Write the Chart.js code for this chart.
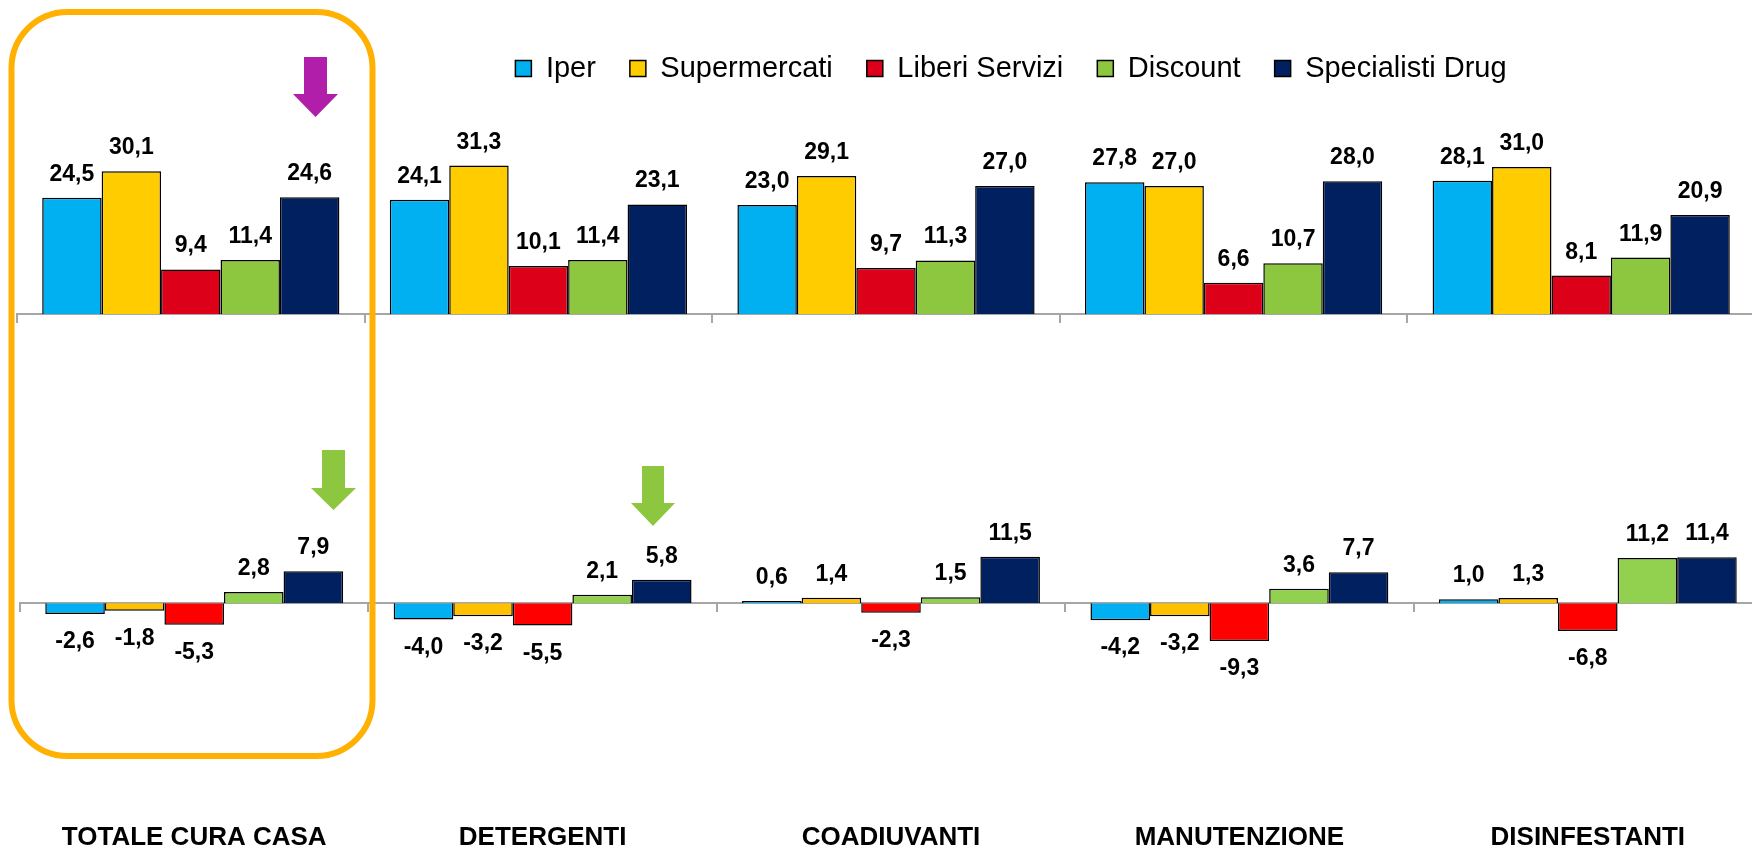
<!DOCTYPE html>
<html>
<head>
<meta charset="utf-8">
<script src="https://cdn.jsdelivr.net/npm/chart.js@4.4.1/dist/chart.umd.min.js"></script>
<style>
  html, body { margin: 0; padding: 0; background: #fff; }
  #wrap { position: relative; width: 1752px; height: 850px; overflow: hidden; background: #fff; }
  #wrap canvas { position: absolute; left: 0; }
  #topChart { top: 0; }
  #botChart { top: 330px; }
  #marks { position: absolute; left: 0; top: 0; pointer-events: none; }
</style>
</head>
<body>
<div id="wrap">
  <canvas id="topChart" width="1755" height="330"></canvas>
  <canvas id="botChart" width="1762" height="520"></canvas>
  <svg id="marks" width="1752" height="850">
    <rect x="11.5" y="12" width="361" height="744" rx="56" ry="56" fill="none" stroke="#FFB000" stroke-width="6"/>
    <polygon fill="#B11FAA" points="304,57 327,57 327,94 338,94 315.5,117 293,94 304,94"/>
    <polygon fill="#8DC63F" points="322,450 345,450 345,488 356,488 333.5,510 311,488 322,488"/>
    <polygon fill="#8DC63F" points="642,466 664,466 664,503 675,503 653,526 631,503 642,503"/>
  </svg>
</div>
<script>
const FONT = '"Liberation Sans", Arial, Helvetica, sans-serif';

const categories = ["TOTALE CURA CASA", "DETERGENTI", "COADIUVANTI", "MANUTENZIONE", "DISINFESTANTI"];
const seriesNames = ["Iper", "Supermercati", "Liberi Servizi", "Discount", "Specialisti Drug"];

// quota (%) per canale
const quotaIper = [24.5, 24.1, 23.0, 27.8, 28.1];
const quotaSuper = [30.1, 31.3, 29.1, 27.0, 31.0];
const quotaLiberi = [9.4, 10.1, 9.7, 6.6, 8.1];
const quotaDiscount = [11.4, 11.4, 11.3, 10.7, 11.9];
const quotaDrug = [24.6, 23.1, 27.0, 28.0, 20.9];

// variazione % per canale
const varIper = [-2.6, -4.0, 0.6, -4.2, 1.0];
const varSuper = [-1.8, -3.2, 1.4, -3.2, 1.3];
const varLiberi = [-5.3, -5.5, -2.3, -9.3, -6.8];
const varDiscount = [2.8, 2.1, 1.5, 3.6, 11.2];
const varDrug = [7.9, 5.8, 11.5, 7.7, 11.4];

const topColors = ["#00B0F0", "#FFCC00", "#DC0018", "#8DC63F", "#002060"];
const botColors = ["#00B0F0", "#FFC000", "#FF0000", "#92D050", "#002060"];

const axisGray = "#A6A6A6";
const fmt = (v)=> v.toFixed(1).replace(".", ",");

function makeSets(arrays, colors){
  return arrays.map((data, i)=>({
    label: seriesNames[i],
    data,
    backgroundColor: colors[i],
    borderColor: "#000",
    borderWidth: 1.5,
    categoryPercentage: 0.855,
    barPercentage: 1
  }));
}

// value labels above (positive) / below (negative) each bar
const valueLabels = {
  id: "valueLabels",
  afterDatasetsDraw(chart){
    const ctx = chart.ctx;
    ctx.save();
    ctx.font = "bold 23px " + FONT;
    ctx.fillStyle = "#000";
    ctx.textAlign = "center";
    ctx.textBaseline = "alphabetic";
    chart.data.datasets.forEach((ds, i)=>{
      chart.getDatasetMeta(i).data.forEach((bar, j)=>{
        const v = ds.data[j];
        const y = v >= 0 ? bar.y - 17 : bar.y + 34;
        ctx.fillText(fmt(v), bar.x, y);
      });
    });
    ctx.restore();
  }
};

// legend sits right of the chart centre in the original
const legendShift = {
  id: "legendShift",
  afterLayout(chart, args, opts){
    if (!chart.legend) return;
    chart.legend.left += opts.dx;
    chart.legend.right += opts.dx;
  }
};

new Chart(document.getElementById("topChart"), {
  type: "bar",
  data: {
    labels: categories,
    datasets: makeSets([quotaIper, quotaSuper, quotaLiberi, quotaDiscount, quotaDrug], topColors)
  },
  options: {
    responsive: false,
    animation: false,
    layout: { padding: { left: 17, right: 0, top: 20, bottom: 7 } },
    plugins: {
      legend: {
        position: "top",
        labels: {
          boxWidth: 16,
          boxHeight: 16,
          padding: 34,
          color: "#000",
          font: { family: FONT, size: 29 }
        }
      },
      tooltip: { enabled: false },
      legendShift: { dx: 125 }
    },
    scales: {
      x: {
        offset: true,
        grid: { offset: true, drawOnChartArea: false, drawTicks: true, tickLength: 9, color: axisGray, lineWidth: 2 },
        border: { display: true, color: axisGray, width: 2 },
        ticks: { display: false }
      },
      y: { display: false, min: 0, max: 46.6 }
    }
  },
  plugins: [valueLabels, legendShift]
});

new Chart(document.getElementById("botChart"), {
  type: "bar",
  data: {
    labels: categories,
    datasets: makeSets([varIper, varSuper, varLiberi, varDiscount, varDrug], botColors)
  },
  options: {
    responsive: false,
    animation: false,
    layout: { padding: { left: 20, right: 0, top: 0, bottom: 0 } },
    plugins: {
      legend: { display: false },
      tooltip: { enabled: false }
    },
    scales: {
      x: {
        position: { y: 0 },
        offset: true,
        grid: { offset: true, drawOnChartArea: false, drawTicks: true, tickLength: 8, color: axisGray, lineWidth: 2 },
        border: { display: true, color: axisGray, width: 2 },
        ticks: { display: false }
      },
      x2: {
        type: "category",
        labels: categories,
        position: "bottom",
        offset: true,
        grid: { display: false, drawTicks: false },
        border: { display: false },
        afterFit: (scale)=>{ scale.height = 30; },
        ticks: {
          padding: 5,
          color: "#000",
          autoSkip: false,
          maxRotation: 0,
          font: { family: FONT, size: 26, weight: "bold", lineHeight: 1 }
        }
      },
      y: { display: false, min: -53.5, max: 67.5 }
    }
  },
  plugins: [valueLabels]
});
</script>
</body>
</html>
